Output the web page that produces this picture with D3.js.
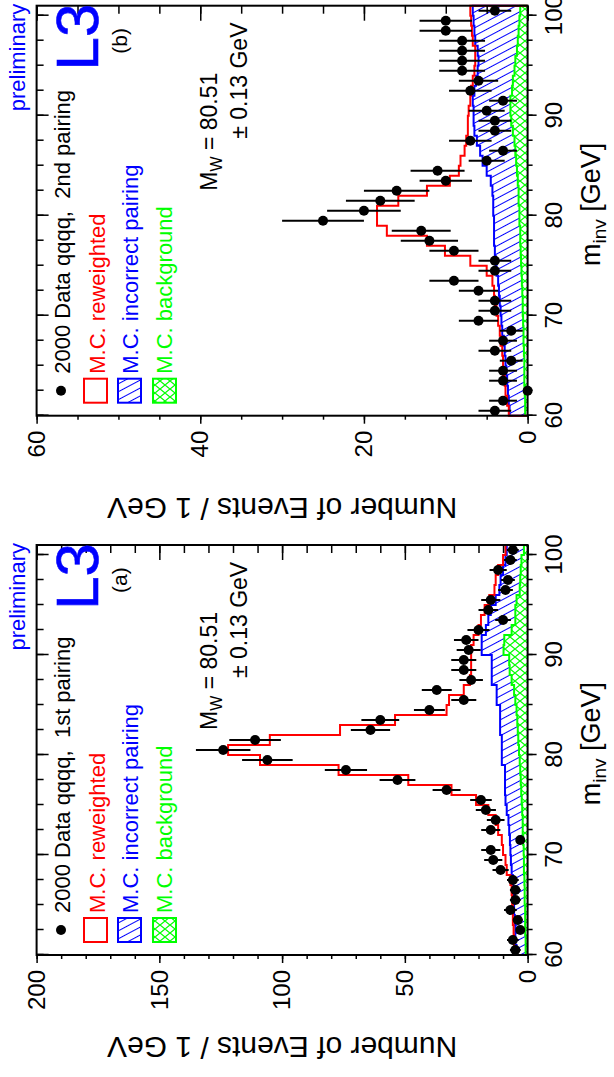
<!DOCTYPE html>
<html>
<head>
<meta charset="utf-8">
<script src="https://cdn.jsdelivr.net/npm/d3@7"></script>
<style>
body { margin: 0; background: #fff; }
text { font-family: "Liberation Sans", Arial, Helvetica, sans-serif; }
</style>
</head>
<body>
<svg id="fig" width="614" height="1077"></svg>
<script>
// bin lower edges, 1 GeV bins
var binLow = [60,61,62,63,64,65,66,67,68,69,70,71,72,73,74,75,76,77,78,79,80,
              81,82,83,84,85,86,87,88,89,90,91,92,93,94,95,96,97,98,99,100];

// (a) 1st pairing
var dataA = [5,6,3,4,7,5,5,6,11,14,15,3,15,13,17,19,33,53,74,106,124,
             111,64,60,40,26,37,23,26,26,24,25,20,10,16,15,9,8,12,7,6];
var errA = [2.2,2.4,1.7,2,2.6,2.2,2.2,2.4,3.3,3.7,3.9,1.7,3.9,3.6,4.1,4.4,5.7,7.3,8.6,10.3,11.1,
            10.5,8,7.7,6.3,5.1,6.1,4.8,5.1,5.1,4.9,5,4.5,3.2,4,3.9,3,2.8,3.5,2.6,2.4];
var reweightedA = [5.5,5.5,5.7,6,6,6.3,6.5,7,8.5,9,10,10.5,12,13,16,21,31,48.6,77,109,122,
                   105,76.4,54,33,32,26,23.5,23,23,23,22,20,19,17.5,15.6,13.5,13,12,10,9];
var incorrectA = [4.5,5,5,5.2,5.5,5.5,5.8,6,6.5,6.8,7,7.2,7.5,7.8,8.5,9,9.2,9.2,9.2,10.5,10.5,
                  10.5,11.2,11.2,11.2,12.6,12.6,14.6,14.6,14.6,18.7,18.7,17,16,15,13,11.5,11,10,9,8.5];
var backgroundA = [0.8,0.8,1,1,1,1.2,1.2,1.3,1.5,1.5,1.6,1.8,2,2,2.2,2.4,2.6,2.8,3,3.2,3.5,
                   3.8,4,4.2,4.5,5,5.5,6.5,7.3,7.5,9.8,9.5,6.5,5,5,4.5,3.2,3,2.8,2.5,1.5];

// (b) 2nd pairing
var dataB = [4,3,0,3,3,2,4,3,2,6,4,4,6,9,4,4,9,12,13,25,20,
             18,16,10,11,5,3,7,4,4,5,3,7,6,8,8,8,8,10,10,4];
var errB = [2,1.7,0,1.7,1.7,1.4,2,1.7,1.4,2.4,2,2,2.4,3,2,2,3,3.5,3.6,5,4.5,
            4.2,4,3.2,3.3,2.2,1.7,2.6,2,2,2.2,1.7,2.6,2.4,2.8,2.8,2.8,2.8,3.2,3.2,2];
var reweightedB = [2.3,2.5,2.7,2.8,3,3,3.1,3.3,3.4,3.6,3.8,4,4.1,4.3,5,7,10.1,12.3,17.2,18.4,18.4,
                   15.8,12.3,9.5,8.4,8.2,7.7,7.5,7.3,7.3,7.2,7,6.9,6.7,6.5,6.4,6.4,6.7,6.8,6.9,7];
var incorrectB = [2.2,2.3,2.4,2.5,2.6,2.7,2.8,2.9,3.1,3.2,3.3,3.4,3.5,3.6,3.8,3.9,4,4.1,4.1,4.1,4.2,
                  4.2,4.3,4.5,5,5.5,5.8,6.2,6.5,6.6,6.6,6.7,6.5,6.3,6.1,6,6.1,6.4,6.5,6.6,6.7];
var backgroundB = [0.3,0.3,0.35,0.4,0.4,0.4,0.45,0.5,0.5,0.55,0.6,0.6,0.65,0.7,0.75,0.8,0.85,0.9,0.9,1,1,
                   1.1,1.1,1.2,1.3,1.4,1.5,1.6,1.8,2,2.1,2.1,1.9,1.8,1.6,1.5,1.3,1.2,1.1,1,0.9];

var mW = "80.51", mWerr = "\u00b1 0.13 GeV";

var panels = [
  {x0: 122, yMax: 200, yMajor: [0,50,100,150,200], yMinor: d3.range(0, 201, 10),
   data: dataA, err: errA, red: reweightedA, blue: incorrectA, green: backgroundA,
   tag: "(a)", title: "2000 Data qqqq,  1st pairing"},
  {x0: 661.3, yMax: 60, yMajor: [0,20,40,60], yMinor: d3.range(0, 61, 5),
   data: dataB, err: errB, red: reweightedB, blue: incorrectB, green: backgroundB,
   tag: "(b)", title: "2000 Data qqqq,  2nd pairing"}
];

var svg = d3.select("#fig");
var defs = svg.append("defs");

// hatch for incorrect pairing
defs.append("pattern")
    .attr("id", "hatchBlue")
    .attr("patternUnits", "userSpaceOnUse")
    .attr("width", 7).attr("height", 7)
    .attr("patternTransform", "rotate(62)")
  .append("line")
    .attr("x1", 0).attr("y1", 3.5).attr("x2", 7).attr("y2", 3.5)
    .attr("stroke", "#0000ff").attr("stroke-width", 1);

// cross hatch for background
var pg = defs.append("pattern")
    .attr("id", "hatchGreen")
    .attr("patternUnits", "userSpaceOnUse")
    .attr("width", 8).attr("height", 10);
pg.append("rect").attr("width", 8).attr("height", 10).attr("fill", "#fff");
pg.append("path")
    .attr("d", "M0,0L8,10M0,10L8,0")
    .attr("stroke", "#00ff00").attr("stroke-width", 1.1);

// whole figure drawn landscape, then turned
var root = svg.append("g").attr("transform", "translate(0,1077) rotate(-90)");

var W = 410, yTop = 36.6, yBot = 527.6;

function histPoints(vals) {
  var pts = [[binLow[0], 0]];
  vals.forEach(function(v, i) {
    pts.push([binLow[i], v]);
    pts.push([binLow[i] + 1, v]);
  });
  pts.push([binLow[binLow.length - 1] + 1, 0]);
  return pts;
}

panels.forEach(function(p) {
  var g = root.append("g");
  var xm = d3.scaleLinear().domain([60, 101]).range([p.x0, p.x0 + W]);
  var yc = d3.scaleLinear().domain([0, p.yMax]).range([yBot, yTop]);
  var line = d3.line().x(function(d) { return xm(d[0]); }).y(function(d) { return yc(d[1]); });

  g.append("path")
      .attr("d", line(histPoints(p.blue)))
      .attr("fill", "url(#hatchBlue)")
      .attr("stroke", "#0000ff").attr("stroke-width", 2);
  g.append("path")
      .attr("d", line(histPoints(p.green)))
      .attr("fill", "url(#hatchGreen)")
      .attr("stroke", "#00ff00").attr("stroke-width", 2);
  g.append("path")
      .attr("d", line(histPoints(p.red)))
      .attr("fill", "none")
      .attr("stroke", "#ff0000").attr("stroke-width", 2);

  // data
  g.selectAll(".eb").data(p.data).enter().append("line")
      .attr("x1", function(d, i) { return xm(binLow[i] + 0.5); })
      .attr("x2", function(d, i) { return xm(binLow[i] + 0.5); })
      .attr("y1", function(d, i) { return yc(Math.max(0, d - p.err[i])); })
      .attr("y2", function(d, i) { return yc(d + p.err[i]); })
      .attr("stroke", "#000").attr("stroke-width", 2);
  g.selectAll(".pt").data(p.data).enter().append("circle")
      .attr("cx", function(d, i) { return xm(binLow[i] + 0.5); })
      .attr("cy", function(d) { return yc(d); })
      .attr("r", 5).attr("fill", "#000");

  // frame
  g.append("rect")
      .attr("x", p.x0).attr("y", yTop).attr("width", W).attr("height", yBot - yTop)
      .attr("fill", "none").attr("stroke", "#000").attr("stroke-width", 2);

  // axes
  var mMajor = [60, 70, 80, 90, 100];
  var mMinor = d3.range(60, 101, 2.5);
  function clean(sel) { sel.select(".domain").remove(); sel.selectAll("line").attr("stroke-width", 1.5); }

  g.append("g").attr("transform", "translate(0," + yBot + ")")
      .call(d3.axisBottom(xm).tickValues(mMinor).tickSize(5).tickFormat(""))
      .call(clean);
  g.append("g").attr("transform", "translate(0," + yBot + ")")
      .call(d3.axisBottom(xm).tickValues(mMajor).tickSize(9).tickPadding(8).tickFormat(d3.format("d")))
      .call(clean)
      .selectAll("text").attr("font-size", 24).attr("font-family", null).attr("fill", "#000");
  g.append("g").attr("transform", "translate(0," + yTop + ")")
      .call(d3.axisBottom(xm).tickValues(mMinor).tickSize(7).tickFormat(""))
      .call(clean);
  g.append("g").attr("transform", "translate(0," + yTop + ")")
      .call(d3.axisBottom(xm).tickValues(mMajor).tickSize(12).tickFormat(""))
      .call(clean);

  g.append("g").attr("transform", "translate(" + p.x0 + ",0)")
      .call(d3.axisLeft(yc).tickValues(p.yMinor).tickSize(4).tickFormat(""))
      .call(clean);
  g.append("g").attr("transform", "translate(" + p.x0 + ",0)")
      .call(d3.axisLeft(yc).tickValues(p.yMajor).tickSize(8).tickPadding(7).tickFormat(d3.format("d")))
      .call(clean)
      .selectAll("text").attr("font-size", 24).attr("font-family", null).attr("fill", "#000");
  g.append("g").attr("transform", "translate(" + (p.x0 + W) + ",0)")
      .call(d3.axisLeft(yc).tickValues(p.yMinor).tickSize(8).tickFormat(""))
      .call(clean);
  g.append("g").attr("transform", "translate(" + (p.x0 + W) + ",0)")
      .call(d3.axisLeft(yc).tickValues(p.yMajor).tickSize(15).tickFormat(""))
      .call(clean);

  // axis titles
  var mt = g.append("text")
      .attr("x", p.x0 + 273).attr("y", 600)
      .attr("text-anchor", "end").attr("font-size", 27);
  mt.append("tspan").text("m");
  mt.append("tspan").attr("font-size", 19).attr("dy", 6).text("inv");
  mt.append("tspan").attr("dy", -6).text(" [GeV]");

  g.append("text")
      .attr("transform", "translate(" + (p.x0 - 82) + "," + ((yTop + yBot) / 2) + ") rotate(-90)")
      .attr("text-anchor", "middle").attr("font-size", 30)
      .text("Number of Events / 1 GeV");

  // labels
  g.append("text").attr("x", p.x0 + 412).attr("y", 25)
      .attr("text-anchor", "end").attr("font-size", 22).attr("fill", "#0000ff")
      .text("preliminary");
  g.append("text").attr("x", p.x0 + 412).attr("y", 98)
      .attr("text-anchor", "end").attr("font-size", 60).attr("fill", "#0000ff")
      .attr("stroke", "#0000ff").attr("stroke-width", 0.6)
      .text("L3");
  g.append("text").attr("x", p.x0 + 362).attr("y", 127)
      .attr("font-size", 21).text(p.tag);

  var mw = g.append("text").attr("x", p.x0 + 225).attr("y", 217).attr("font-size", 23);
  mw.append("tspan").text("M");
  mw.append("tspan").attr("font-size", 16).attr("dy", 5).text("W");
  mw.append("tspan").attr("dy", -5).text(" = " + mW);
  g.append("text").attr("x", p.x0 + 277).attr("y", 247).attr("font-size", 23).text(mWerr);

  // legend
  g.append("circle").attr("cx", p.x0 + 25).attr("cy", 61).attr("r", 5).attr("fill", "#000");
  g.append("text").attr("x", p.x0 + 42).attr("y", 70).attr("font-size", 22)
      .style("white-space", "pre").text(p.title);

  var leg = [
    {fill: "#fff", color: "#ff0000", y: 84, base: 105, label: "M.C. reweighted"},
    {fill: "url(#hatchBlue)", color: "#0000ff", y: 118, base: 138, label: "M.C. incorrect pairing"},
    {fill: "url(#hatchGreen)", color: "#00ff00", y: 153, base: 172, label: "M.C. background"}
  ];
  leg.forEach(function(l) {
    g.append("rect").attr("x", p.x0 + 13).attr("y", l.y).attr("width", 24).attr("height", 23)
        .attr("fill", l.fill).attr("stroke", l.color).attr("stroke-width", 2);
    g.append("text").attr("x", p.x0 + 42).attr("y", l.base).attr("font-size", 22)
        .attr("fill", l.color).text(l.label);
  });
});
</script>
</body>
</html>
